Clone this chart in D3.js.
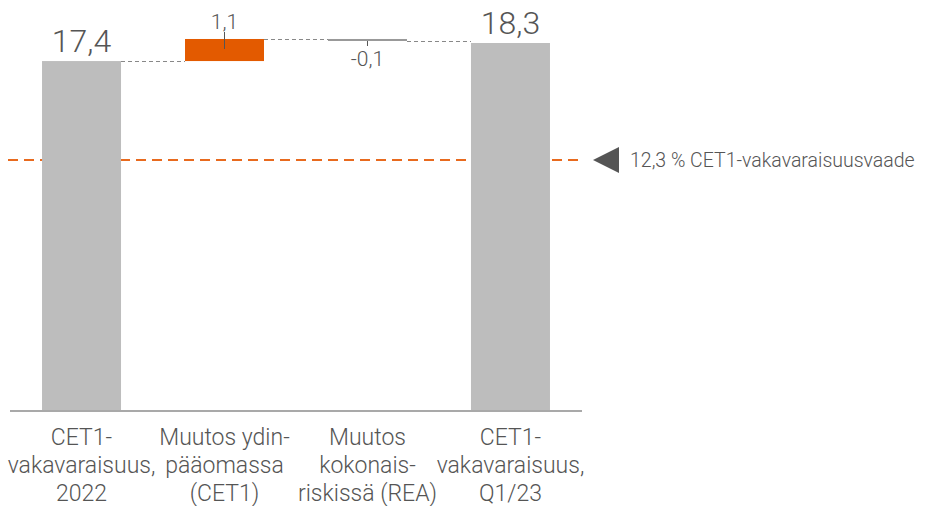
<!DOCTYPE html>
<html>
<head>
<meta charset="utf-8">
<script src="https://cdn.jsdelivr.net/npm/d3@7"></script>
<style>
  body { margin: 0; background: #fff; }
  text { font-family: Roboto, sans-serif; font-weight: 300; fill: #555; }
</style>
</head>
<body>
<svg id="chart" width="928" height="506"></svg>
<script>
// waterfall data
var categories = [
  ["CET1-", "vakavaraisuus,", "2022"],
  ["Muutos ydin-", "pääomassa", "(CET1)"],
  ["Muutos", "kokonais-", "riskissä (REA)"],
  ["CET1-", "vakavaraisuus,", "Q1/23"]
];
var values = [17.4, 1.1, -0.1, 18.3];
var kinds = ["total", "delta", "delta", "total"];
var valueLabels = ["17,4", "1,1", "-0,1", "18,3"];
var threshold = 12.3;
var thresholdLabel = "12,3 % CET1-vakavaraisuusvaade";

var svg = d3.select("#chart");

var x = d3.scaleBand()
  .domain(d3.range(categories.length))
  .range([10, 582])
  .paddingInner(0.4476)
  .paddingOuter(0.224);

var y = d3.scaleLinear()
  .domain([0, 18.3])
  .range([410, 43]);

// compute start/end of each step
var running = 0;
var steps = values.map(function(v, i) {
  var s;
  if (kinds[i] == "total") { s = {y0: 0, y1: v}; running = v; }
  else { s = {y0: running, y1: running + v}; running += v; }
  s.i = i; s.v = v; s.kind = kinds[i];
  return s;
});

function barColor(d) {
  if (d.kind == "total") return "#bdbdbd";
  return d.v > 0 ? "#e35a00" : "#999999";
}

// threshold line
var ty = Math.round(y(threshold)) - 3;
svg.append("line")
  .attr("x1", 8).attr("x2", 580)
  .attr("y1", ty).attr("y2", ty)
  .attr("stroke", "#e86a1e")
  .attr("stroke-width", 2)
  .attr("stroke-dasharray", "10,6");

// connectors
for (var i = 0; i < steps.length - 1; i++) {
  var lvl = steps[i].y1;
  svg.append("line")
    .attr("x1", x(i) + x.bandwidth()).attr("x2", x(i + 1))
    .attr("y1", Math.round(y(lvl)) + 0.5).attr("y2", Math.round(y(lvl)) + 0.5)
    .attr("stroke", "#888")
    .attr("stroke-width", 1)
    .attr("stroke-dasharray", "4,3");
}

svg.append("g").selectAll("rect")
  .data(steps)
  .enter().append("rect")
  .attr("x", function(d) { return x(d.i); })
  .attr("width", x.bandwidth())
  .attr("y", function(d) { return y(Math.max(d.y0, d.y1)); })
  .attr("height", function(d) { return Math.max(2, Math.abs(y(d.y0) - y(d.y1))); })
  .attr("fill", barColor);

// axis line
svg.append("line")
  .attr("x1", 10).attr("x2", 582)
  .attr("y1", 411).attr("y2", 411)
  .attr("stroke", "#555").attr("stroke-width", 1.2);

// value labels
steps.forEach(function(d) {
  var cx = x(d.i) + x.bandwidth() / 2;
  if (d.kind == "total") {
    svg.append("text")
      .attr("x", cx).attr("y", y(d.y1) - 9)
      .attr("text-anchor", "middle")
      .attr("font-size", 32)
      .text(valueLabels[d.i]);
  } else if (d.v > 0) {
    svg.append("line")
      .attr("x1", cx).attr("x2", cx)
      .attr("y1", y(d.y1) - 7).attr("y2", y(d.y1) + 10)
      .attr("stroke", "#555");
    svg.append("text")
      .attr("x", cx).attr("y", y(d.y1) - 10)
      .attr("text-anchor", "middle")
      .attr("font-size", 21)
      .text(valueLabels[d.i]);
  } else {
    svg.append("line")
      .attr("x1", cx).attr("x2", cx)
      .attr("y1", y(d.y1)).attr("y2", y(d.y1) + 5)
      .attr("stroke", "#555");
    svg.append("text")
      .attr("x", cx).attr("y", y(d.y1) + 25)
      .attr("text-anchor", "middle")
      .attr("font-size", 21)
      .text(valueLabels[d.i]);
  }
});

// category labels
svg.append("g").selectAll("text")
  .data(categories)
  .enter().append("text")
  .attr("text-anchor", "middle")
  .attr("font-size", 23)
  .attr("x", function(d, i) { return x(i) + x.bandwidth() / 2; })
  .attr("y", 445)
  .selectAll("tspan")
  .data(function(d) { return d; })
  .enter().append("tspan")
  .attr("x", function() { return d3.select(this.parentNode).attr("x"); })
  .attr("dy", function(d, j) { return j == 0 ? 0 : 28; })
  .text(function(d) { return d; });

// threshold marker + label
svg.append("path")
  .attr("d", "M593," + ty + "L619," + (ty - 13) + "L619," + (ty + 13) + "Z")
  .attr("fill", "#555");
svg.append("text")
  .attr("x", 630).attr("y", ty + 7)
  .attr("font-size", 19.5)
  .text(thresholdLabel);
</script>
</body>
</html>
